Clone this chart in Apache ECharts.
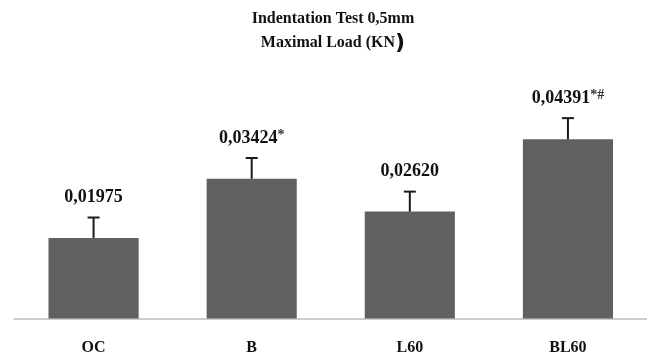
<!DOCTYPE html>
<html><head><meta charset="utf-8">
<script src="https://cdn.jsdelivr.net/npm/echarts@6/dist/echarts.min.js"></script>
<style>html,body{margin:0;padding:0;background:#fff}#c{width:647px;height:358px}</style>
</head><body><div id="c"></div>
<script>
var categories = ['OC', 'B', 'L60', 'BL60'];
var values = [0.01975, 0.03424, 0.02620, 0.04391];
var errors = [0.0050, 0.0051, 0.0049, 0.0052];
var valueLabels = ['0,01975', '0,03424', '0,02620', '0,04391'];
var valueMarks = ['', '*', '', '*#'];

var serif = '"Liberation Serif", "DejaVu Serif", serif';
var chart = echarts.init(document.getElementById('c'));
chart.setOption({
  animation: false,
  title: [
    {text: 'Indentation Test 0,5mm', left: 328, top: 6, textAlign: 'center',
     textStyle: {fontFamily: serif, fontWeight: 'bold', fontSize: 16, color: '#111'}},
    {text: '{a|Maximal Load (KN}{p|)}', left: 328, top: 27, textAlign: 'center',
     textStyle: {rich: {
       a: {fontFamily: serif, fontWeight: 'bold', fontSize: 16, color: '#111'},
       p: {fontFamily: '"DejaVu Sans", sans-serif', fontSize: 22, color: '#111'}
     }}}
  ],
  grid: {left: 14.5, right: 0, top: 114.5, bottom: 39.5},
  xAxis: {
    type: 'category', data: categories,
    axisLine: {lineStyle: {color: '#cccccc', width: 2}},
    axisTick: {show: false},
    axisLabel: {fontFamily: serif, fontWeight: 'bold', fontSize: 16, color: '#111', margin: 21}
  },
  yAxis: {type: 'value', min: 0, max: 0.05, show: false, splitLine: {show: false}},
  series: [
    {type: 'bar', data: values, barWidth: '57%', itemStyle: {color: '#606060'}},
    {type: 'custom', data: values.map(function(v, i){ return [i, v, errors[i]]; }),
     z: 5,
     renderItem: function(params, api){
       var i = api.value(0), v = api.value(1), e = api.value(2);
       var base = api.coord([i, v]);
       var top = api.coord([i, v + e]);
       var x = base[0];
       return {type: 'group', children: [
         {type: 'line', shape: {x1: x, y1: base[1], x2: x, y2: top[1]},
          style: {stroke: '#1a1a1a', lineWidth: 2}},
         {type: 'line', shape: {x1: x - 6, y1: top[1], x2: x + 6, y2: top[1]},
          style: {stroke: '#1a1a1a', lineWidth: 2}},
         {type: 'text', x: x, y: top[1] - 10,
          style: {text: '{m|' + valueLabels[i] + '}' + (valueMarks[i] ? '{s|' + valueMarks[i] + '}' : ''),
            align: 'center', verticalAlign: 'bottom',
            rich: {
              m: {fontFamily: serif, fontWeight: 'bold', fontSize: 18, fill: '#111', lineHeight: 20},
              s: {fontFamily: serif, fontWeight: 'bold', fontSize: 14, fill: '#333', lineHeight: 16, verticalAlign: 'top'}
            }}}
       ]};
     }}
  ]
});
</script></body></html>
